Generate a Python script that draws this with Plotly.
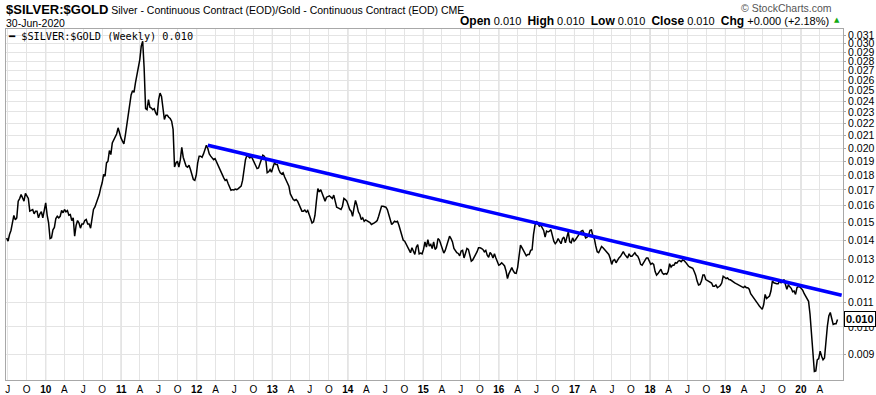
import math
import pandas as pd
import plotly.graph_objects as go

# ---------------- data ----------------
series_name = "$SILVER:$GOLD"
start_week = "2009-06-26"

ratio_values = [
    0.01411, 0.01394, 0.0143, 0.01453, 0.01496, 0.0154, 0.01515, 0.01525, 0.01628, 0.01644,
    0.0167, 0.01649, 0.01628, 0.01677, 0.0166, 0.01645, 0.01566, 0.0157, 0.01576, 0.0155,
    0.01566, 0.01566, 0.01526, 0.0155, 0.01562, 0.01526, 0.01586, 0.01617, 0.01542, 0.01496,
    0.01408, 0.01412, 0.01457, 0.0147, 0.01522, 0.01535, 0.01526, 0.01535, 0.0157, 0.01556,
    0.01576, 0.01562, 0.0157, 0.01542, 0.01546, 0.0151, 0.01526, 0.01421, 0.01482, 0.0151,
    0.01496, 0.01466, 0.0149, 0.0149, 0.0151, 0.01516, 0.0149, 0.0149, 0.01466, 0.0151,
    0.01576, 0.01592, 0.01617, 0.01638, 0.0167, 0.01714, 0.01748, 0.01805, 0.01793, 0.01888,
    0.019, 0.0198, 0.0195, 0.0204, 0.0206, 0.0208, 0.02112, 0.02163, 0.02112, 0.0208,
    0.02054, 0.02033, 0.02101, 0.02177, 0.02262, 0.02336, 0.02457, 0.02498, 0.02482, 0.02574,
    0.02641, 0.02735, 0.02818, 0.02968, 0.03025, 0.02728, 0.0233, 0.02321, 0.02413, 0.02343,
    0.02336, 0.02321, 0.0233, 0.02291, 0.02271, 0.02413, 0.02475, 0.02444, 0.02336, 0.02234,
    0.02271, 0.02271, 0.02254, 0.02242, 0.02219, 0.0215, 0.01858, 0.01888, 0.019, 0.01857,
    0.01912, 0.02006, 0.0193, 0.01888, 0.01864, 0.01857, 0.01871, 0.0184, 0.018, 0.0177,
    0.01764, 0.018, 0.01888, 0.01938, 0.01938, 0.0193, 0.01955, 0.01988, 0.02022, 0.01996,
    0.01955, 0.01938, 0.01925, 0.01912, 0.0192, 0.01895, 0.01871, 0.01847, 0.01824, 0.01793,
    0.01782, 0.01764, 0.0177, 0.01743, 0.01718, 0.01698, 0.01702, 0.017, 0.01706, 0.01702,
    0.01709, 0.01718, 0.01725, 0.01764, 0.01857, 0.01912, 0.01945, 0.01938, 0.01925, 0.01938,
    0.01912, 0.01888, 0.01871, 0.01847, 0.01852, 0.01888, 0.0192, 0.01945, 0.01938, 0.01917,
    0.01817, 0.01824, 0.0184, 0.01821, 0.01857, 0.01888, 0.01876, 0.01876, 0.0184, 0.01817,
    0.01809, 0.01817, 0.01789, 0.0177, 0.01748, 0.01725, 0.01674, 0.01653, 0.01638, 0.01632,
    0.01638, 0.01628, 0.0161, 0.01586, 0.01566, 0.01566, 0.01572, 0.0156, 0.0157, 0.01546,
    0.01522, 0.01496, 0.01502, 0.0154, 0.01628, 0.01709, 0.01687, 0.01702, 0.01677, 0.01653,
    0.01628, 0.01653, 0.0166, 0.01662, 0.01653, 0.01645, 0.01666, 0.01628, 0.0159, 0.01586,
    0.01582, 0.01576, 0.01596, 0.01645, 0.01638, 0.01628, 0.01602, 0.01576, 0.01566, 0.01535,
    0.01586, 0.01632, 0.01602, 0.01562, 0.01546, 0.01516, 0.01526, 0.01506, 0.01514, 0.0151,
    0.01504, 0.01498, 0.01487, 0.0149, 0.01496, 0.01502, 0.0151, 0.01535, 0.01576, 0.01596,
    0.01596, 0.01592, 0.0159, 0.01576, 0.01546, 0.0151, 0.01487, 0.01496, 0.01506, 0.01502,
    0.01506, 0.01483, 0.01449, 0.01416, 0.01399, 0.01394, 0.0138, 0.01368, 0.0135, 0.01333,
    0.01359, 0.01341, 0.01324, 0.01362, 0.01376, 0.01327, 0.01331, 0.01327, 0.0135, 0.0139,
    0.01362, 0.01402, 0.01368, 0.01376, 0.01355, 0.0139, 0.0135, 0.01359, 0.01408, 0.014,
    0.01376, 0.01355, 0.01331, 0.01345, 0.01368, 0.01397, 0.01421, 0.01408, 0.0139, 0.01355,
    0.01341, 0.01333, 0.01329, 0.01317, 0.01341, 0.01345, 0.01306, 0.01327, 0.01355, 0.0135,
    0.01315, 0.0129, 0.01296, 0.0131, 0.0132, 0.01338, 0.01359, 0.01359, 0.01355, 0.0135,
    0.01338, 0.01345, 0.0132, 0.0131, 0.01334, 0.01324, 0.01306, 0.01327, 0.01306, 0.01287,
    0.0127, 0.01274, 0.01282, 0.01274, 0.01266, 0.01242, 0.01206, 0.01229, 0.01245, 0.01258,
    0.01242, 0.01232, 0.0123, 0.01258, 0.01315, 0.01373, 0.01359, 0.01345, 0.01324, 0.01317,
    0.01324, 0.01324, 0.01345, 0.01348, 0.01431, 0.01483, 0.01506, 0.0149, 0.01477, 0.01483,
    0.01468, 0.01453, 0.01416, 0.01449, 0.01445, 0.01449, 0.01458, 0.01421, 0.01394, 0.0138,
    0.0139, 0.01408, 0.0139, 0.0138, 0.01408, 0.01416, 0.01385, 0.01416, 0.01445, 0.0139,
    0.01385, 0.01412, 0.01394, 0.01402, 0.01416, 0.01432, 0.01438, 0.01449, 0.01453, 0.01434,
    0.01412, 0.01416, 0.01427, 0.01453, 0.01456, 0.01421, 0.01408, 0.01368, 0.01338, 0.01333,
    0.01355, 0.01366, 0.01359, 0.0135, 0.01345, 0.01338, 0.01324, 0.01303, 0.01274, 0.01293,
    0.01298, 0.01282, 0.01298, 0.01306, 0.01313, 0.01327, 0.01338, 0.01324, 0.01315, 0.01306,
    0.01327, 0.01315, 0.01315, 0.01324, 0.01333, 0.0132, 0.01315, 0.01298, 0.01274, 0.0127,
    0.01282, 0.01293, 0.01306, 0.01306, 0.0129, 0.01274, 0.0128, 0.01274, 0.01239, 0.01222,
    0.01229, 0.01242, 0.0125, 0.01232, 0.01226, 0.01229, 0.01226, 0.01239, 0.01277, 0.01261,
    0.0127, 0.0127, 0.01282, 0.0128, 0.0129, 0.01293, 0.01287, 0.01296, 0.01293, 0.01285,
    0.01274, 0.01266, 0.01261, 0.01258, 0.01255, 0.01239, 0.01222, 0.01194, 0.01176, 0.01179,
    0.01194, 0.01222, 0.01222, 0.01201, 0.01197, 0.01194, 0.01191, 0.01185, 0.0117, 0.0117,
    0.01176, 0.01164, 0.01168, 0.01174, 0.01185, 0.01217, 0.01212, 0.01206, 0.01209, 0.01201,
    0.012, 0.01194, 0.01189, 0.01186, 0.01182, 0.01179, 0.01176, 0.01172, 0.01167, 0.01164,
    0.0117, 0.01164, 0.01164, 0.01157, 0.01137, 0.01127, 0.01119, 0.01109, 0.01101, 0.01093,
    0.01084, 0.01077, 0.0107, 0.0109, 0.01134, 0.01116, 0.01122, 0.01127, 0.01149, 0.01194,
    0.01186, 0.01182, 0.01182, 0.01182, 0.01194, 0.01186, 0.01191, 0.01201, 0.01172, 0.01157,
    0.01176, 0.01167, 0.01161, 0.01146, 0.01149, 0.01134, 0.01164, 0.0117, 0.01167, 0.0116,
    0.01152, 0.01137, 0.01125, 0.01116, 0.01104, 0.0105, 0.00978, 0.00916, 0.00841, 0.00843,
    0.0088, 0.00884, 0.0091, 0.00892, 0.0088, 0.00886, 0.00947, 0.01003, 0.01043, 0.01057,
    0.01033, 0.01009, 0.01012, 0.01012, 0.01029,
]

# trendline (blue) end points
trend_dates = ["2012-02-24", "2020-07-16"]
trend_values = [0.02022, 0.011303]

# axis ticks
y_ticks = [0.009, 0.010, 0.011, 0.012, 0.013, 0.014, 0.015, 0.016, 0.017, 0.018, 0.019,
           0.020, 0.021, 0.022, 0.023, 0.024, 0.025, 0.026, 0.027, 0.028, 0.029, 0.030, 0.031]
x_tick_dates = pd.date_range("2009-07-01", "2020-04-01", freq="QS-JAN")
month_letters = {4: "A", 7: "J", 10: "O"}

header_values = {"Open": "0.010", "High": "0.010", "Low": "0.010", "Close": "0.010",
                 "Chg": "+0.000 (+2.18%)"}
date_label = "30-Jun-2020"

# ---------------- figure ----------------
dates = pd.date_range(start_week, periods=len(ratio_values), freq="7D")

x_labels = []
for d in x_tick_dates:
    if d.month == 1:
        x_labels.append("<b>%02d</b>" % (d.year % 100))
    else:
        x_labels.append(month_letters[d.month])

W, H = 876, 395
L, R, T, B = 6, 843, 29, 380


def px(xp):
    return (xp - L) / (R - L)


def py(yp):
    return (B - yp) / (B - T)


fig = go.Figure()
fig.add_trace(go.Scatter(x=dates, y=ratio_values, mode="lines",
                         line=dict(color="#000000", width=1.5), hoverinfo="skip"))
fig.add_trace(go.Scatter(x=pd.to_datetime(trend_dates), y=trend_values, mode="lines",
                         line=dict(color="#0000ff", width=3.6), hoverinfo="skip"))

shapes = []
for d in x_tick_dates:
    if d.month == 1:
        shapes.append(dict(type="line", xref="x", yref="paper", x0=d, x1=d, y0=0, y1=1,
                           line=dict(color="#bcbcbc", width=1), layer="between"))

font_main = "Liberation Sans, Arial, sans-serif"
last_val = ratio_values[-1]
annotations = [
    dict(xref="paper", yref="paper", x=px(4), y=py(9), xanchor="left", yanchor="middle",
         showarrow=False,
         text="<b><span style='font-size:13px'>%s</span></b> Silver - Continuous Contract (EOD)/Gold - Continuous Contract (EOD) CME" % series_name,
         font=dict(family=font_main, size=10.5, color="#000")),
    dict(xref="paper", yref="paper", x=px(4), y=py(23), xanchor="left", yanchor="middle",
         showarrow=False, text=date_label, font=dict(family=font_main, size=10.5, color="#000")),
    dict(xref="paper", yref="paper", x=px(834), y=py(8), xanchor="right", yanchor="middle",
         showarrow=False, text="\u00a9 StockCharts.com",
         font=dict(family=font_main, size=10.5, color="#555")),
    dict(xref="paper", yref="paper", x=px(831), y=py(21), xanchor="right", yanchor="middle",
         showarrow=False,
         text="\u00a0\u00a0".join("<b><span style='font-size:12px'>%s</span></b> %s" % (k, v)
                                  for k, v in header_values.items()),
         font=dict(family=font_main, size=11, color="#000")),
    dict(xref="paper", yref="paper", x=px(837), y=py(20), xanchor="center", yanchor="middle",
         showarrow=False, text="\u25b2", font=dict(family="DejaVu Sans", size=7, color="#11aa11")),
    dict(xref="paper", yref="paper", x=px(6), y=py(36), xanchor="left", yanchor="middle",
         showarrow=False, text="<b>\u2501</b> %s (Weekly) %.3f" % (series_name, last_val),
         font=dict(family="DejaVu Sans Mono", size=10.2, color="#000")),
    dict(xref="paper", yref="y", x=1, y=math.log10(last_val), xanchor="left", yanchor="middle",
         xshift=1, showarrow=False, text="<b>%.3f</b>" % last_val,
         font=dict(family=font_main, size=11, color="#000"),
         bgcolor="#ffffff", bordercolor="#000000", borderwidth=1, borderpad=1),
]

fig.update_layout(
    width=W, height=H,
    margin=dict(l=L, r=W - R, t=T, b=H - B, autoexpand=False),
    paper_bgcolor="#ffffff", plot_bgcolor="#ffffff",
    showlegend=False,
    xaxis=dict(type="date", range=["2009-06-23", "2020-07-22 12:00"],
               tickmode="array", tickvals=x_tick_dates, ticktext=x_labels,
               showgrid=True, gridcolor="#e4e4e4", gridwidth=1,
               showline=True, linecolor="#a8a8a8", mirror=True, zeroline=False,
               ticks="", tickfont=dict(family=font_main, size=10, color="#000"),
               fixedrange=True),
    yaxis=dict(type="log", side="right",
               range=[math.log10(0.008137), math.log10(0.03173)],
               tickmode="array", tickvals=y_ticks, ticktext=["%.3f" % v for v in y_ticks],
               showgrid=True, gridcolor="#e4e4e4", gridwidth=1,
               showline=True, linecolor="#a8a8a8", mirror=True, zeroline=False,
               ticks="outside", ticklen=2, tickcolor="#a8a8a8",
               tickfont=dict(family=font_main, size=10.5, color="#000"),
               fixedrange=True),
    shapes=shapes,
    annotations=annotations,
)

fig.write_html("out.html", config={"displayModeBar": False},
               post_script="document.body.style.margin='0';document.body.style.overflow='hidden';")
